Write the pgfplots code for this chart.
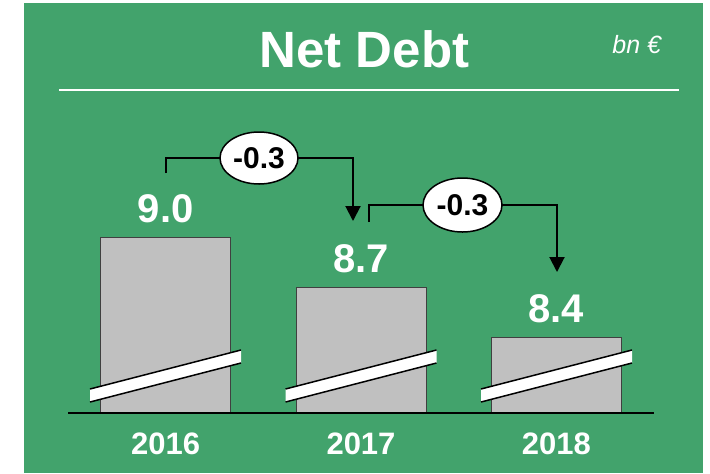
\documentclass[border=0pt]{standalone}
\usepackage{fontspec}
\setmainfont{Liberation Sans}
\usepackage{pgfplots}
\pgfplotsset{compat=1.18}
\usetikzlibrary{arrows.meta}
\definecolor{bggreen}{HTML}{42A36C}
\definecolor{bargray}{HTML}{C0C0C0}
\begin{document}
\begin{tikzpicture}
% pixel frame: 1px = 0.5pt, y downwards, origin at the axis' lower left corner (px 68,413)
\begin{scope}[x=0.5pt,y=-0.5pt,shift={(-68,-413)}]
  \fill[bggreen] (24,3) rectangle (703,473);
  \draw[white,line width=1pt] (59,90) -- (679,90);
  \node[anchor=base,text=white,inner sep=0pt,font=\fontsize{25.5}{30}\selectfont\bfseries] at (364.5,67) {Net Debt};
  \node[anchor=base west,text=white,inner sep=0pt,font=\fontsize{12.5}{14}\selectfont\itshape] at (612,53) {bn €};
\end{scope}

\begin{axis}[
    scale only axis,
    width=293pt, height=205pt,
    xmin=-0.5, xmax=2.5,
    ymin=7.946, ymax=10.405,
    axis x line=bottom, axis y line=none,
    x axis line style={-, black, line width=1pt},
    axis on top,
    xtick={0,1,2}, xticklabels={2016,2017,2018},
    major tick length=0pt,
    xticklabel style={anchor=center, yshift=-15.25pt, text=white,
      font=\fontsize{15.5}{18}\selectfont\bfseries},
    ybar, bar width=0.6655,
    nodes near coords,
    every node near coord/.append style={anchor=base, yshift=7.5pt, text=white,
      font=\fontsize{20}{24}\selectfont\bfseries},
    /pgf/number format/fixed,
    /pgf/number format/fixed zerofill,
    /pgf/number format/precision=1,
    /pgf/number format/assume math mode=true,
  ]
  \addplot[fill=bargray, draw=black!75, line width=0.5pt]
    coordinates {(0,9.0) (1,8.7) (2,8.4)};
\end{axis}

\begin{scope}[x=0.5pt,y=-0.5pt,shift={(-68,-413)}]
  % broken-axis bands
  \foreach \dx in {0,195.5,391} {
    \fill[white] (90+\dx,402) -- (241+\dx,363) -- (241+\dx,350) -- (90+\dx,389) -- cycle;
    \draw[line width=0.75pt] (90+\dx,402) -- (241+\dx,363) (90+\dx,389) -- (241+\dx,350);
  }
  % change arrows
  \draw[line width=1pt,-{Triangle[width=7.5pt,length=7.5pt]}]
    (166,173) -- (166,158) -- (353,158) -- (353,221);
  \draw[line width=1pt,-{Triangle[width=7.5pt,length=7.5pt]}]
    (369,222) -- (369,205) -- (557,205) -- (557,272);
  \draw[fill=white,line width=0.75pt] (259,158) ellipse [x radius=39, y radius=26];
  \draw[fill=white,line width=0.75pt] (462.5,205) ellipse [x radius=39.5, y radius=27];
  \node[font=\fontsize{15}{18}\selectfont\bfseries] at (259,158) {-0.3};
  \node[font=\fontsize{15}{18}\selectfont\bfseries] at (462.5,205) {-0.3};
  \pgfresetboundingbox
  \path (0,0) rectangle (710,473);
\end{scope}
\end{tikzpicture}
\end{document}
